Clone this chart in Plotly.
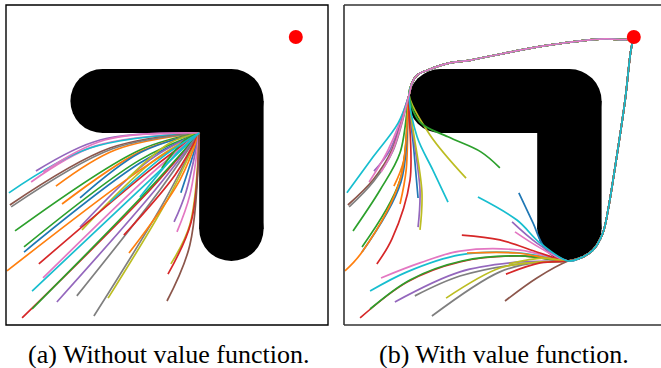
import plotly.graph_objects as go

# matplotlib "tab10" colours used for the rollouts
BLUE, ORANGE, GREEN, RED, PURPLE = "#1f77b4", "#ff7f0e", "#2ca02c", "#d62728", "#9467bd"
BROWN, PINK, GRAY, OLIVE, CYAN = "#8c564b", "#e377c2", "#7f7f7f", "#bcbd22", "#17becf"

# World is a 10 x 10 square
GOAL = (9.0, 9.0)
STUCK_POINT = (6.0, 6.0)               # inner corner of the L-shaped wall
OBSTACLE_PATH = [(3.0, 7.0), (7.0, 7.0), (7.0, 3.0)]
OBSTACLE_RADIUS = 1.0

# Rollout colours and their shared initial states
TRAJ_COLOR = [
    PURPLE, PINK, CYAN, ORANGE, BROWN, GRAY, GREEN, ORANGE, BLUE, GREEN,
    BLUE, PURPLE, OLIVE, ORANGE, RED, PINK, CYAN, RED, GREEN, PURPLE,
    GRAY, GRAY, OLIVE, OLIVE, GREEN, CYAN, BLUE, RED, ORANGE, PURPLE,
    PINK, OLIVE, RED, BROWN, PINK, CYAN,
]
TRAJ_START = [
    (0.93, 4.81), (0.78, 4.47), (0.09, 4.13), (1.55, 4.34), (0.12, 3.75),
    (0.16, 3.69), (0.28, 2.94), (1.74, 3.78), (2.30, 3.97), (0.56, 2.44),
    (0.56, 2.28), (2.30, 3.06), (2.36, 2.97), (0.03, 1.69), (1.02, 1.91),
    (1.15, 1.47), (0.81, 1.06), (0.50, 0.22), (0.81, 0.50), (1.58, 0.72),
    (2.20, 0.91), (2.73, 0.28), (3.17, 0.84), (3.79, 4.59), (4.84, 4.91),
    (3.23, 3.84), (5.43, 4.13), (3.66, 2.81), (3.82, 2.25), (5.22, 3.22),
    (5.31, 2.91), (5.12, 1.91), (5.03, 1.59), (5.00, 0.75), (1.15, 4.78),
    (4.16, 4.00),
]

# (a) intermediate states on the way into the wall corner
LEFT_VIA = [
    [(2.92, 5.78)], [(2.76, 5.59)], [(2.61, 5.53)], [(3.39, 5.47)], [(3.23, 5.53)],
    [(3.29, 5.50)], [(4.16, 5.47)], [(4.16, 5.41)], [(4.16, 5.38)], [(4.16, 5.16)],
    [(4.16, 5.06)], [(4.47, 5.16)], [(4.53, 5.09)], [(4.16, 4.84)], [(4.47, 4.84)],
    [(4.47, 4.69)], [(4.47, 4.53)], [(4.47, 4.22)], [(4.47, 4.28)], [(4.63, 4.22)],
    [(4.78, 4.22)], [(4.94, 3.91)], [(5.09, 4.06)], [(5.09, 5.69)], [(5.56, 5.78)],
    [(4.94, 5.31)], [(5.81, 5.31)], [(5.25, 4.69)], [(5.40, 4.53)], [(5.59, 4.16)],
    [(5.71, 4.06)], [(5.71, 3.13)], [(5.75, 3.22)], [(5.71, 2.50)], [(3.07, 5.78)],
    [(5.25, 5.31)],
]

# (b) intermediate states before joining one of the two routes around the wall
RIGHT_VIA = [
    [(1.43, 5.47)],
    [(1.37, 5.47)],
    [(0.90, 5.25), (1.68, 6.31)],
    [(1.86, 5.16)],
    [(0.90, 4.53), (1.49, 5.47)],
    [(0.93, 4.50), (1.52, 5.44)],
    [(1.12, 4.22), (1.74, 5.38)],
    [(1.93, 4.84)],
    [(2.17, 5.47)],
    [(1.74, 4.53)],
    [(1.77, 4.47)],
    [(2.36, 4.22)],
    [(2.42, 4.16)],
    [(0.56, 2.28), (1.74, 4.53)],
    [(1.49, 2.69), (2.05, 4.53)],
    [(2.36, 1.94), (3.60, 2.31), (5.47, 2.34)],
    [(1.96, 1.66), (3.60, 2.19), (5.47, 2.25)],
    [(1.96, 1.34), (3.60, 1.97), (5.47, 2.16)],
    [(2.05, 1.41), (3.66, 2.00), (5.47, 2.16)],
    [(3.60, 1.66), (5.47, 1.97)],
    [(3.60, 1.53), (5.47, 1.91)],
    [(4.84, 1.66), (6.09, 1.97)],
    [(4.84, 1.78), (6.09, 1.97)],
    [(2.67, 5.94)],
    [(4.25, 5.41), (3.23, 5.88), (2.36, 6.34)],
    [(2.76, 4.84), (2.27, 5.88)],
    [(5.87, 3.19), (6.24, 2.41)],
    [(4.84, 2.66), (6.09, 2.25)],
    [(5.37, 2.25)],
    [(5.99, 2.56)],
    [(6.09, 2.41)],
    [(6.18, 2.09)],
    [(6.09, 1.94)],
    [(5.99, 1.47)],
    [(1.52, 5.47)],
    [(5.37, 3.28), (6.09, 2.56)],
]
RIGHT_EXIT = (["upper"] * 15 + ["lower"] * 8 + ["upper"] * 3
              + ["lower"] * 8 + ["upper", "lower"])

# Shared routes to the goal: over the top of the wall, or around its lower end
UPPER_ROUTE = [(2.02, 7.19), (2.11, 7.56), (2.27, 7.81), (2.61, 7.97), (3.29, 8.19),
               (3.94, 8.28), (6.02, 8.69), (8.11, 8.94), (8.75, 8.92), (9.00, 9.00)]
LOWER_ROUTE = [(6.96, 2.00), (7.33, 2.09), (7.73, 2.34), (8.04, 2.88), (8.20, 3.59),
               (8.42, 4.94), (8.73, 7.03), (8.91, 8.59), (9.00, 9.00)]

PANEL_TITLES = ["(a) Without value function.", "(b) With value function."]

# ---------------------------------------------------------------- layout (px)
W, H = 661, 368
PX_SCALE_X = 32.2
PANEL_LEFT = [6, 344]
PANEL_TOP, PANEL_BOTTOM = 5, 325


def px_x(p):
    return p / W


def px_y(p):
    return 1 - p / H


fig = go.Figure()

routes = {"upper": UPPER_ROUTE, "lower": LOWER_ROUTE}
for i, color in enumerate(TRAJ_COLOR):
    left_pts = [TRAJ_START[i]] + LEFT_VIA[i] + [STUCK_POINT]
    fig.add_trace(go.Scatter(
        x=[p[0] for p in left_pts], y=[p[1] for p in left_pts],
        mode="lines", line=dict(color=color, width=1.7, shape="spline"),
        xaxis="x", yaxis="y", showlegend=False, hoverinfo="skip"))
    right_pts = [TRAJ_START[i]] + RIGHT_VIA[i] + routes[RIGHT_EXIT[i]]
    fig.add_trace(go.Scatter(
        x=[p[0] for p in right_pts], y=[p[1] for p in right_pts],
        mode="lines", line=dict(color=color, width=1.7, shape="spline"),
        xaxis="x2", yaxis="y2", showlegend=False, hoverinfo="skip"))

for xa, ya in (("x", "y"), ("x2", "y2")):
    fig.add_trace(go.Scatter(
        x=[GOAL[0]], y=[GOAL[1]], mode="markers",
        marker=dict(color="#ff0000", size=14, line=dict(width=0)),
        xaxis=xa, yaxis=ya, showlegend=False, hoverinfo="skip"))

# L-shaped wall: thick polyline with round caps and a round outer joint
shapes = []
r = OBSTACLE_RADIUS
for xr, yr in (("x", "y"), ("x2", "y2")):
    for (ax, ay), (bx, by) in zip(OBSTACLE_PATH[:-1], OBSTACLE_PATH[1:]):
        shapes.append(dict(type="rect", xref=xr, yref=yr,
                           x0=min(ax, bx) - (r if ax == bx else 0),
                           x1=max(ax, bx) + (r if ax == bx else 0),
                           y0=min(ay, by) - (r if ay == by else 0),
                           y1=max(ay, by) + (r if ay == by else 0),
                           fillcolor="black", line=dict(width=0), layer="below"))
    for cx, cy in OBSTACLE_PATH:
        shapes.append(dict(type="circle", xref=xr, yref=yr,
                           x0=cx - r, x1=cx + r, y0=cy - r, y1=cy + r,
                           fillcolor="black", line=dict(width=0), layer="below"))

# Panel frames (the right panel runs past the page edge)
frame = dict(color="black", width=1.4)
x0, x1 = px_x(PANEL_LEFT[0]), px_x(PANEL_LEFT[0] + 322)
shapes.append(dict(type="rect", xref="paper", yref="paper", x0=x0, x1=x1,
                   y0=px_y(PANEL_BOTTOM), y1=px_y(PANEL_TOP), line=frame))
rx0 = px_x(PANEL_LEFT[1])
for seg in ((rx0, rx0, PANEL_BOTTOM, PANEL_TOP),
            (rx0, 1.0, PANEL_TOP, PANEL_TOP),
            (rx0, 1.0, PANEL_BOTTOM, PANEL_BOTTOM)):
    shapes.append(dict(type="line", xref="paper", yref="paper",
                       x0=seg[0], x1=seg[1], y0=px_y(seg[2]), y1=px_y(seg[3]),
                       line=dict(color="#333333", width=1.6)))

axis_common = dict(showgrid=False, zeroline=False, showticklabels=False,
                   ticks="", showline=False, fixedrange=True)
y_dom = [px_y(PANEL_BOTTOM), px_y(PANEL_TOP)]
caption_font = dict(family="Liberation Serif, DejaVu Serif, serif", size=26, color="black")
fig.update_layout(
    width=W, height=H, margin=dict(l=0, r=0, t=0, b=0),
    paper_bgcolor="white", plot_bgcolor="white",
    xaxis=dict(domain=[px_x(PANEL_LEFT[0]), px_x(PANEL_LEFT[0] + 322)],
               range=[0, 10], **axis_common),
    yaxis=dict(domain=y_dom, range=[0, 10], **axis_common),
    xaxis2=dict(domain=[px_x(PANEL_LEFT[1]), 1.0],
                range=[0, (W - PANEL_LEFT[1]) / PX_SCALE_X], **axis_common),
    yaxis2=dict(domain=y_dom, range=[0, 10], **axis_common),
    shapes=shapes,
    annotations=[
        dict(text=PANEL_TITLES[0], x=px_x(169), y=px_y(354), xref="paper", yref="paper",
             xanchor="center", yanchor="middle", showarrow=False, font=caption_font),
        dict(text=PANEL_TITLES[1], x=px_x(504), y=px_y(354), xref="paper", yref="paper",
             xanchor="center", yanchor="middle", showarrow=False, font=caption_font),
    ],
)
fig.update_layout(yaxis2_anchor="x2", xaxis2_anchor="y2")

fig.write_html("out.html")
